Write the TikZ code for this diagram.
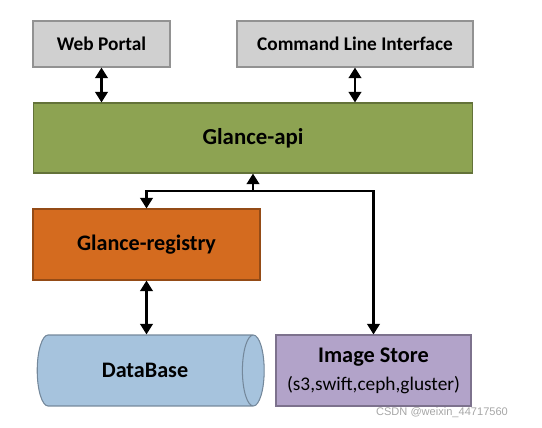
\documentclass[tikz,border=0pt]{standalone}
\usepackage{fontspec}
\setmainfont{Carlito}
\newfontfamily\markfont{Liberation Sans}
\usepackage{tikz}
\usetikzlibrary{positioning}
\usetikzlibrary{shapes.geometric,arrows.meta}
\definecolor{boxgray}{HTML}{D0D0D0}
\definecolor{apigreen}{HTML}{8DA352}
\definecolor{regorange}{HTML}{D46B1F}
\definecolor{dbblue}{HTML}{A6C3DD}
\definecolor{storepurple}{HTML}{B2A3C9}
\tikzset{
  block/.style={draw=#1!70!black,fill=#1,line width=0.6pt,inner sep=0pt,font=\bfseries},
  link/.style={line width=1.5pt,{Triangle[length=6pt,width=7pt]}-{Triangle[length=6pt,width=7pt]}},
  uplink/.style={line width=1.5pt,-{Triangle[length=6pt,width=7pt]}}
}

\begin{document}
\begin{tikzpicture}[x=0.02cm,y=-0.02cm]
\useasboundingbox (0,0) rectangle (542,427);
\node[block=boxgray,minimum width=2.74cm,minimum height=0.92cm,font=\bfseries\fontsize{11}{13}\selectfont] (portal) at (101.5,44) {Web Portal};
\node[block=boxgray,minimum width=4.72cm,minimum height=0.92cm,font=\bfseries\fontsize{11}{13}\selectfont] (cli) at (355,44) {Command Line Interface};
\node[block=apigreen,minimum width=8.8cm,minimum height=1.4cm,font=\bfseries\fontsize{13}{15}\selectfont] (api) at (253,138) {Glance-api};
\node[block=regorange,minimum width=4.54cm,minimum height=1.42cm,font=\bfseries\fontsize{12.6}{15}\selectfont] (registry) at (146.5,244.5) {Glance-registry};
\node[block=dbblue,shape=cylinder,shape border rotate=0,shape aspect=1.5,cylinder uses custom fill,cylinder body fill=dbblue,cylinder end fill=dbblue,
  minimum width=1.42cm,minimum height=4.54cm,font=\bfseries\fontsize{12.6}{15}\selectfont] (db) at (145,370.5) {DataBase};
\node[block=storepurple,minimum width=3.9cm,minimum height=1.42cm,align=center,font=\bfseries\fontsize{12.7}{15}\selectfont] (store) at (373.5,370.5)
{Image Store\\[1pt]{\mdseries\fontsize{11}{13}\selectfont (s3,swift,ceph,gluster)}};
\coordinate (split) at (253,191);
\draw[link] (portal.south) -- (portal.south |- api.north);
\draw[link] (cli.south) -- (cli.south |- api.north);
\draw[uplink] (split) -- (api.south);
\draw[uplink] (split) -| (registry.north);
\draw[uplink] (split) -| (store.north);
\draw[link] (registry.south) -- (registry.south |- db.north);
\node[text=gray!70,font=\markfont\fontsize{6.3}{7}\selectfont] (mark) at (442,413) {CSDN @weixin\_44717560};
\end{tikzpicture}
\end{document}
